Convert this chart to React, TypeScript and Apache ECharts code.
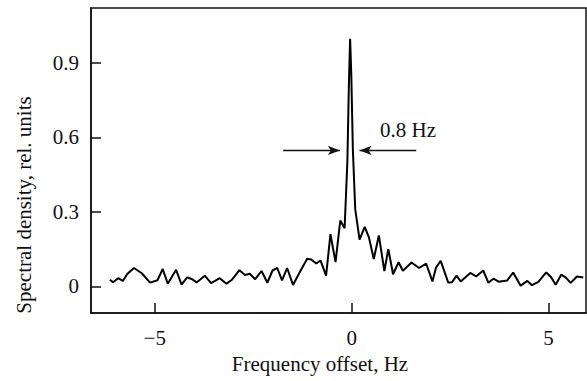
import React, { useEffect, useRef } from "react";
import * as echarts from "echarts";

const freqHz = [
  -6.14, -6.06, -5.93, -5.81, -5.70, -5.53, -5.33, -5.12, -4.93, -4.80,
  -4.67, -4.46, -4.32, -4.18, -4.06, -3.94, -3.73, -3.57, -3.35, -3.18,
  -3.04, -2.85, -2.71, -2.59, -2.45, -2.29, -2.14, -2.01, -1.89, -1.77,
  -1.64, -1.49, -1.31, -1.13, -1.03, -0.90, -0.79, -0.65, -0.54, -0.41,
  -0.29, -0.18, -0.11, -0.07, -0.04, -0.01, 0.03, 0.09, 0.20, 0.33,
  0.44, 0.56, 0.69, 0.83, 0.93, 1.05, 1.19, 1.30, 1.52, 1.71,
  1.89, 2.05, 2.14, 2.26, 2.45, 2.55, 2.66, 2.77, 3.01, 3.16,
  3.34, 3.47, 3.60, 3.73, 3.95, 4.10, 4.29, 4.46, 4.58, 4.74,
  4.94, 5.06, 5.18, 5.32, 5.44, 5.56, 5.72, 5.88,
];
const density = [
  0.027, 0.017, 0.033, 0.022, 0.05, 0.074, 0.053, 0.015, 0.025, 0.07,
  0.011, 0.067, 0.007, 0.036, 0.03, 0.016, 0.043, 0.013, 0.033, 0.011,
  0.027, 0.065, 0.046, 0.051, 0.029, 0.062, 0.015, 0.064, 0.074, 0.024,
  0.074, 0.006, 0.06, 0.111, 0.108, 0.092, 0.104, 0.043, 0.21, 0.098,
  0.265, 0.234, 0.5, 0.82, 0.996, 0.85, 0.55, 0.31, 0.188, 0.239,
  0.196, 0.11, 0.205, 0.062, 0.15, 0.049, 0.097, 0.063, 0.096, 0.074,
  0.092, 0.02, 0.075, 0.103, 0.016, 0.017, 0.043, 0.02, 0.054, 0.04,
  0.064, 0.015, 0.031, 0.019, 0.024, 0.056, 0.003, 0.022, 0.005, 0.018,
  0.056, 0.038, 0.007, 0.047, 0.035, 0.014, 0.04, 0.036,
];
const xTicks = [-5, 0, 5];
const yTicks = [0, 0.3, 0.6, 0.9];
const widthLabel = "0.8 Hz";
const arrowLevel = 0.547;
const leftArrow = [-1.74, -0.3];
const rightArrow = [1.64, 0.2];

const FONT = '"Liberation Serif", "Times New Roman", serif';
const INK = "#111";

export default function App() {
  const ref = useRef<HTMLDivElement>(null);
  useEffect(() => {
    if (!ref.current) return;
    const chart = echarts.init(ref.current, undefined, { renderer: "svg" });
    const data = freqHz.map((f, i) => [f, density[i]]);
    chart.setOption({
      animation: false,
      backgroundColor: "#fff",
      grid: {
        left: 91,
        right: 1,
        top: 8,
        bottom: 68,
        show: true,
        borderColor: INK,
        borderWidth: 1.5,
        backgroundColor: "transparent",
      },
      xAxis: {
        type: "value",
        min: -6.62,
        max: 5.95,
        name: "Frequency offset, Hz",
        nameLocation: "middle",
        nameGap: 40,
        nameTextStyle: {
          fontFamily: FONT,
          fontSize: 21,
          color: INK,
          padding: [0, 37, 0, 0],
        },
        splitLine: { show: false },
        axisLine: { show: true, onZero: false, lineStyle: { color: INK, width: 1.5 } },
        axisTick: {
          show: true,
          inside: true,
          length: 10,
          customValues: xTicks,
          lineStyle: { color: INK, width: 1.5 },
        },
        axisLabel: {
          customValues: xTicks,
          margin: 14,
          fontFamily: FONT,
          fontSize: 21,
          color: INK,
          formatter: (v: number) => String(v).replace("-", "\u2212"),
        },
      },
      yAxis: {
        type: "value",
        min: -0.107,
        max: 1.12,
        name: "Spectral density, rel. units",
        nameLocation: "middle",
        nameGap: 57,
        nameTextStyle: {
          fontFamily: FONT,
          fontSize: 21,
          color: INK,
          padding: [0, 89, 0, 0],
        },
        splitLine: { show: false },
        axisLine: { show: true, onZero: false, lineStyle: { color: INK, width: 1.5 } },
        axisTick: {
          show: true,
          inside: true,
          length: 10,
          customValues: yTicks,
          lineStyle: { color: INK, width: 1.5 },
        },
        axisLabel: {
          customValues: yTicks,
          margin: 12,
          fontFamily: FONT,
          fontSize: 21,
          color: INK,
          formatter: (v: number) => String(v),
        },
      },
      series: [
        {
          type: "line",
          data,
          showSymbol: false,
          symbol: "none",
          lineStyle: { color: "#000", width: 2 },
          markLine: {
            silent: true,
            symbol: ["none", "arrow"],
            symbolSize: [7, 12],
            label: { show: false },
            lineStyle: { color: INK, width: 1.4, type: "solid" },
            data: [
              [{ coord: [leftArrow[0], arrowLevel] }, { coord: [leftArrow[1], arrowLevel] }],
              [{ coord: [rightArrow[0], arrowLevel] }, { coord: [rightArrow[1], arrowLevel] }],
            ],
          },
          markPoint: {
            silent: true,
            symbol: "circle",
            symbolSize: 0,
            label: {
              show: true,
              position: "inside",
              formatter: widthLabel,
              fontFamily: FONT,
              fontSize: 21,
              color: INK,
            },
            data: [{ coord: [1.43, 0.63] }],
          },
        },
      ],
    });
    return () => chart.dispose();
  }, []);
  return (
    <div
      ref={ref}
      style={{ position: "fixed", left: 0, top: 0, width: 587, height: 381 }}
    />
  );
}
